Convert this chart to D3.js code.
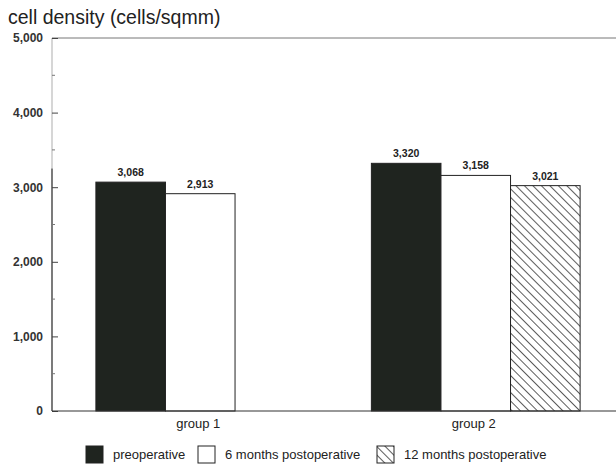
<!DOCTYPE html>
<html>
<head>
<meta charset="utf-8">
<script src="https://cdn.jsdelivr.net/npm/d3@7"></script>
<style>
  body { margin: 0; background: #fff; }
  svg { display: block; font-family: "Liberation Sans", Arial, sans-serif; }
</style>
</head>
<body>
<svg id="chart" width="616" height="467"></svg>
<script>
// Endothelial cell density per group and follow-up time
const groups = ["group 1", "group 2"];
const seriesNames = ["preoperative", "6 months postoperative", "12 months postoperative"];
const preoperative = [3068, 3320];
const months6 = [2913, 3158];
const months12 = [null, 3021];
const yTicks = [0, 1000, 2000, 3000, 4000, 5000];

const seriesValues = [preoperative, months6, months12];

const svg = d3.select("#chart");
const W = 616;
const axisX = 52;

const x0 = d3.scaleBand().domain(groups).range([62.5, 613.5]).paddingInner(0).paddingOuter(0);
const x1 = d3.scaleBand().domain(seriesNames).range([0, x0.bandwidth()]).paddingOuter(0.48).paddingInner(0);
const y = d3.scaleLinear().domain([0, 5000]).range([411, 38]);

// hatch pattern for the 12-month bars
const defs = svg.append("defs");
const pat = defs.append("pattern")
  .attr("id", "hatch").attr("patternUnits", "userSpaceOnUse")
  .attr("width", 6).attr("height", 6)
  .attr("patternTransform", "rotate(45)");
pat.append("rect").attr("width", 6).attr("height", 6).attr("fill", "#fff");
pat.append("line").attr("x1", 0).attr("y1", 0).attr("x2", 6).attr("y2", 0)
  .attr("stroke", "#333").attr("stroke-width", 1.6);

const fills = ["#1f241f", "#ffffff", "url(#hatch)"];

// title
svg.append("text").attr("x", 8).attr("y", 24)
  .attr("font-size", 19.5).attr("fill", "#222")
  .text("cell density (cells/sqmm)");

// frame: top line, y axis
svg.append("line").attr("x1", axisX).attr("x2", W).attr("y1", y(5000)).attr("y2", y(5000))
  .attr("stroke", "#777").attr("stroke-width", 1);
svg.append("line").attr("x1", axisX).attr("x2", axisX).attr("y1", y(5000)).attr("y2", y(3250))
  .attr("stroke", "#bbb").attr("stroke-width", 1.2);
svg.append("line").attr("x1", axisX).attr("x2", axisX).attr("y1", y(3250)).attr("y2", y(0))
  .attr("stroke", "#222").attr("stroke-width", 1.2);

// y ticks (inside) with labels
const yAxis = d3.axisRight(y).tickValues(yTicks).tickSize(6).tickFormat(d3.format(","));
const gy = svg.append("g").attr("transform", `translate(${axisX},0)`).call(yAxis);
gy.select(".domain").remove();
gy.selectAll(".tick line").attr("stroke", "#444");
gy.selectAll(".tick text").attr("x", -9).attr("text-anchor", "end")
  .attr("font-size", 12).attr("font-weight", "bold").attr("fill", "#333")
  .attr("font-family", "Liberation Sans, Arial, sans-serif");
// minor ticks
const minor = d3.range(500, 5000, 1000);
svg.append("g").selectAll("line").data(minor).join("line")
  .attr("x1", axisX).attr("x2", axisX + 3)
  .attr("y1", d => y(d)).attr("y2", d => y(d))
  .attr("stroke", "#777");

// bars
const barData = [];
groups.forEach((g, gi) => {
  seriesNames.forEach((s, si) => {
    const v = seriesValues[si][gi];
    if (v != null) barData.push({ g, s, si, v });
  });
});

const bars = svg.append("g");
bars.selectAll("rect").data(barData).join("rect")
  .attr("x", d => x0(d.g) + x1(d.s))
  .attr("y", d => y(d.v))
  .attr("width", x1.bandwidth())
  .attr("height", d => y(0) - y(d.v))
  .attr("fill", d => fills[d.si])
  .attr("stroke", "#222").attr("stroke-width", 1);

bars.selectAll("text").data(barData).join("text")
  .attr("x", d => x0(d.g) + x1(d.s) + x1.bandwidth() / 2)
  .attr("y", d => y(d.v) - 6)
  .attr("text-anchor", "middle")
  .attr("font-size", 10.5).attr("font-weight", "bold").attr("fill", "#222")
  .text(d => d3.format(",")(d.v));

// x axis line
svg.append("line").attr("x1", axisX).attr("x2", W).attr("y1", y(0)).attr("y2", y(0))
  .attr("stroke", "#333").attr("stroke-width", 1.2);

// group labels
svg.append("g").selectAll("text").data(groups).join("text")
  .attr("x", d => x0(d) + x0.bandwidth() / 2 - 2)
  .attr("y", y(0) + 17)
  .attr("text-anchor", "middle")
  .attr("font-size", 13).attr("fill", "#222")
  .text(d => d);

// legend
const legendX = [86, 198, 377];
const lg = svg.append("g").selectAll("g").data(seriesNames).join("g")
  .attr("transform", (d, i) => `translate(${legendX[i]},446)`);
lg.append("rect").attr("width", 17).attr("height", 17)
  .attr("fill", (d, i) => fills[i]).attr("stroke", "#222").attr("stroke-width", 1);
lg.append("text").attr("x", 27).attr("y", 13)
  .attr("font-size", 13).attr("fill", "#222")
  .text(d => d);
</script>
</body>
</html>
